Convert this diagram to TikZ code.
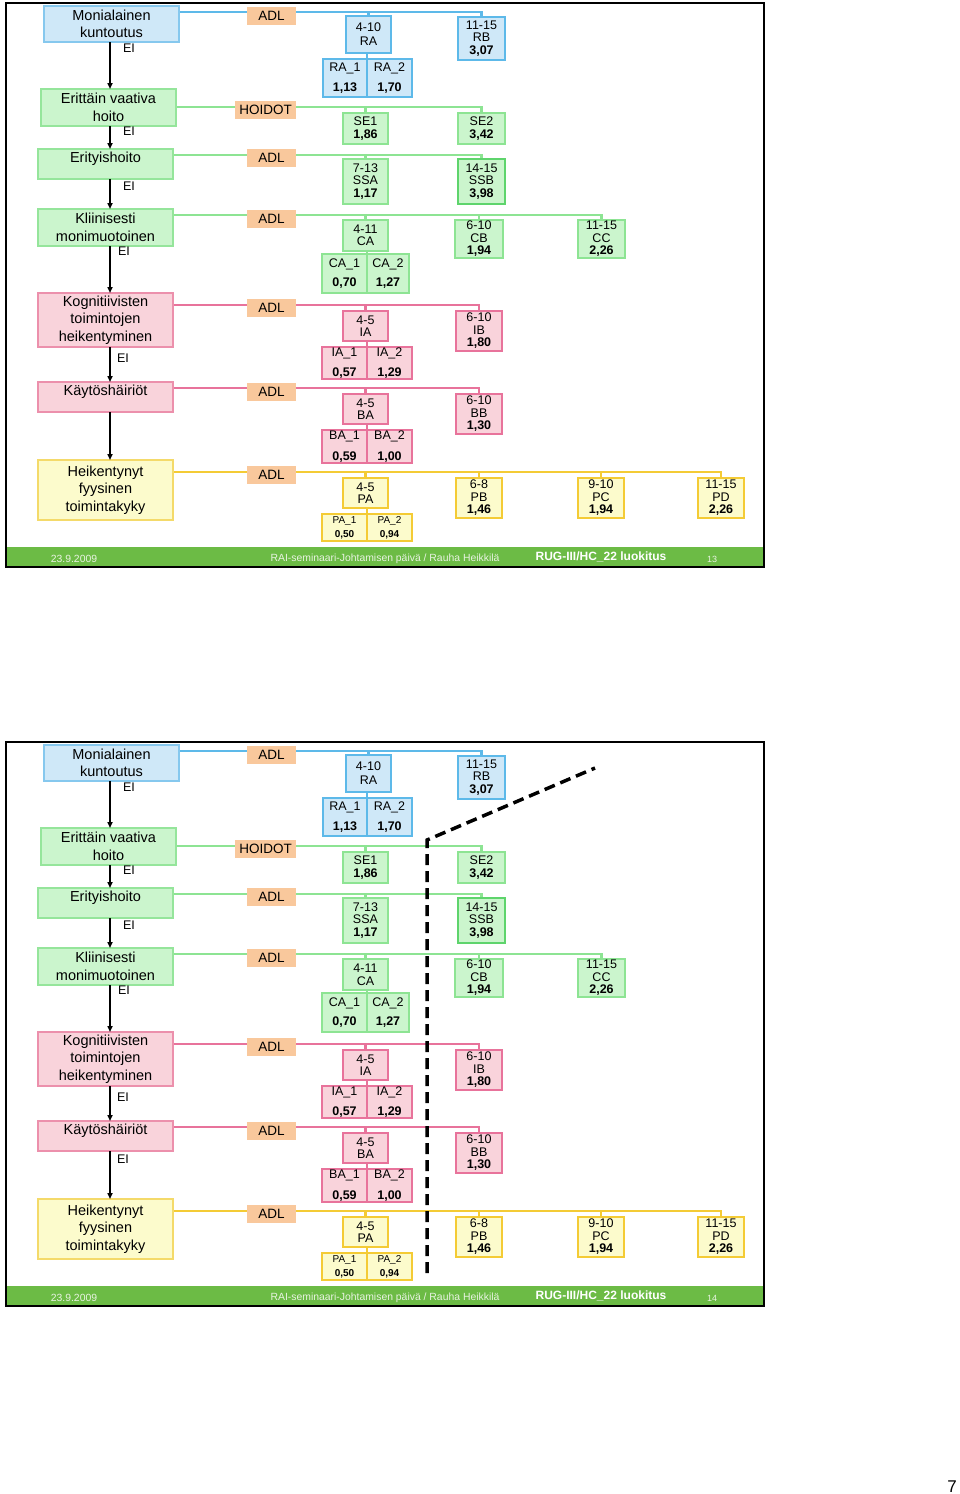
\documentclass[tikz,border=0pt]{standalone}
\usepackage{fontspec}
\setmainfont{Liberation Sans}
\usetikzlibrary{arrows.meta}
\pgfdeclarelayer{bg}
\pgfdeclarelayer{paper}
\pgfsetlayers{paper,bg,main}
\definecolor{bluefill}{HTML}{CFE8F8}
\definecolor{blueline}{HTML}{5DB9E9}
\definecolor{blueborder}{HTML}{86C8EE}
\definecolor{greenfill}{HTML}{CBF5CD}
\definecolor{greenline}{HTML}{8DE493}
\definecolor{greenborder}{HTML}{95E59B}
\definecolor{greendark}{HTML}{5ED46C}
\definecolor{pinkfill}{HTML}{F9D3DB}
\definecolor{pinkline}{HTML}{E8739B}
\definecolor{pinkborder}{HTML}{EC90AC}
\definecolor{yelfill}{HTML}{FCFBCC}
\definecolor{yelline}{HTML}{F4CB35}
\definecolor{yelborder}{HTML}{F4DA6A}
\definecolor{adlfill}{HTML}{F9C89C}
\definecolor{footgreen}{HTML}{6CBB45}
\definecolor{foottext}{HTML}{E9F3E2}
\tikzset{
  lb/.style={draw=#1border, fill=#1fill, line width=1.7pt, inner sep=0pt, outer sep=0pt, align=center, font=\fontsize{14.5}{17.5}\selectfont},
  rb/.style={draw=#1line, fill=#1fill, line width=2.4pt, inner sep=0pt, outer sep=0pt, align=center, font=\fontsize{12.5}{12.5}\selectfont},
  cline/.style={draw=#1line, line width=2.8pt},
  adl/.style={fill=adlfill, inner sep=0pt, outer sep=0pt, minimum height=18pt, minimum width=49pt, font=\fontsize{13.5}{14}\selectfont},
  ei/.style={font=\fontsize{12.5}{13}\selectfont, inner sep=0pt},
  arr/.style={draw=black, line width=1.5pt, -{Triangle[length=6pt,width=5pt]}},
  ftxt/.style={text=foottext, inner sep=0pt, font=\fontsize{10.4}{11}\selectfont},
  dashline/.style={draw=black, line width=3.5pt, dash pattern=on 11pt off 6pt}
}
\newcommand{\bx}[7]{\node[#6, minimum width={((#4)-(#2))*1pt}, minimum height={((#5)-(#3))*1pt}] (#1) at ({((#2)+(#4))/2},{((#3)+(#5))/2}) {#7};}
\newcommand{\slidebody}[1]{%
  % left column
  \bx{L1}{44}{6}{179}{42}{lb=blue}{Monialainen\\kuntoutus}
  \bx{L2}{41}{89}{176}{126}{lb=green}{Erittäin vaativa\\hoito}
  \bx{L3}{38}{149}{173}{179}{lb=green}{\raisebox{5pt}[\height][\depth]{Erityishoito}}
  \bx{L4}{38}{209}{173}{246}{lb=green}{Kliinisesti\\monimuotoinen}
  \bx{L5}{38}{293}{173}{347}{lb=pink}{Kognitiivisten\\toimintojen\\heikentyminen}
  \bx{L6}{38}{382}{173}{412}{lb=pink}{\raisebox{5pt}[\height][\depth]{Käytöshäiriöt}}
  \bx{L7}{38}{460}{173}{520}{lb=yel}{Heikentynyt\\fyysinen\\toimintakyky}
  \coordinate (ax) at (110,0);
  \draw[arr] (L1.south -| ax) -- (L2.north -| ax);
  \draw[arr] (L2.south -| ax) -- (L3.north -| ax);
  \draw[arr] (L3.south -| ax) -- (L4.north -| ax);
  \draw[arr] (L4.south -| ax) -- (L5.north -| ax);
  \draw[arr] (L5.south -| ax) -- (L6.north -| ax);
  \draw[arr] (L6.south -| ax) -- (L7.north -| ax);
  \node[ei] (ei1) at (129,48) {EI};
  \node[ei] (ei2) at (129,131) {EI};
  \node[ei] (ei3) at (129,186) {EI};
  \node[ei] (ei4) at (124,251) {EI};
  \node[ei] (ei5) at (123,358) {EI};
  % ADL labels
  \node[adl] (A1) at (271.5,16) {ADL};
  \node[adl, minimum width=61pt] (A2) at (265.5,110) {HOIDOT};
  \node[adl] (A3) at (271.5,158) {ADL};
  \node[adl] (A4) at (271.5,219) {ADL};
  \node[adl] (A5) at (271.5,308) {ADL};
  \node[adl] (A6) at (271.5,392) {ADL};
  \node[adl] (A7) at (271.5,475) {ADL};
  % blue group
  \bx{RA}{346}{16}{391}{53}{rb=blue}{4-10\\[1.5pt]RA}
  \bx{RAa}{323}{59}{367}{97}{rb=blue}{RA\_1\\[7pt]\textbf{1,13}}
  \bx{RAb}{367}{59}{412}{97}{rb=blue}{RA\_2\\[7pt]\textbf{1,70}}
  \bx{RB}{458}{17}{505}{60}{rb=blue}{11-15\\RB\\\textbf{3,07}}
  % green groups
  \bx{SEa}{343}{113}{388}{144}{rb=green}{SE1\\\textbf{1,86}}
  \bx{SEb}{458}{113}{505}{144}{rb=green}{SE2\\\textbf{3,42}}
  \bx{SSA}{343}{159}{388}{204}{rb=green}{7-13\\SSA\\\textbf{1,17}}
  \bx{SSB}{458}{159}{505}{204}{rb=green, draw=greendark, line width=2.9pt}{14-15\\SSB\\\textbf{3,98}}
  \bx{CA}{343}{220}{388}{251}{rb=green}{4-11\\CA}
  \bx{CAa}{322}{254}{367}{293}{rb=green}{CA\_1\\[7pt]\textbf{0,70}}
  \bx{CAb}{367}{254}{409}{293}{rb=green}{CA\_2\\[7pt]\textbf{1,27}}
  \bx{CB}{455}{220}{503}{258}{rb=green}{6-10\\CB\\\textbf{1,94}}
  \bx{CC}{578}{220}{625}{258}{rb=green}{11-15\\CC\\\textbf{2,26}}
  % pink groups
  \bx{IA}{343}{311}{388}{341}{rb=pink}{4-5\\IA}
  \bx{IAa}{322}{347}{367}{379}{rb=pink}{IA\_1\\[7pt]\textbf{0,57}}
  \bx{IAb}{367}{347}{412}{379}{rb=pink}{IA\_2\\[7pt]\textbf{1,29}}
  \bx{IB}{456}{311}{502}{351}{rb=pink}{6-10\\IB\\\textbf{1,80}}
  \bx{BA}{343}{394}{388}{424}{rb=pink}{4-5\\BA}
  \bx{BAa}{322}{430}{367}{463}{rb=pink}{BA\_1\\[8pt]\textbf{0,59}}
  \bx{BAb}{367}{430}{412}{463}{rb=pink}{BA\_2\\[8pt]\textbf{1,00}}
  \bx{BB}{456}{394}{502}{434}{rb=pink}{6-10\\BB\\\textbf{1,30}}
  % yellow group
  \bx{PA}{343}{478}{388}{508}{rb=yel}{4-5\\PA}
  \bx{PAa}{322}{514}{367}{541}{rb=yel, font=\fontsize{10}{11}\selectfont}{PA\_1\\[3pt]\textbf{0,50}}
  \bx{PAb}{367}{514}{412}{541}{rb=yel, font=\fontsize{10}{11}\selectfont}{PA\_2\\[3pt]\textbf{0,94}}
  \bx{PB}{456}{478}{502}{518}{rb=yel}{6-8\\PB\\\textbf{1,46}}
  \bx{PC}{578}{478}{624}{518}{rb=yel}{9-10\\PC\\\textbf{1,94}}
  \bx{PD}{698}{478}{744}{518}{rb=yel}{11-15\\PD\\\textbf{2,26}}
  % connectors
  \coordinate (h1) at (0,12);
  \coordinate (h2) at (0,107);
  \coordinate (h3) at (0,155);
  \coordinate (h4) at (0,215);
  \coordinate (h5) at (0,305);
  \coordinate (h6) at (0,388);
  \coordinate (h7) at (0,472);
  \begin{pgfonlayer}{bg}
    \draw[cline=blue] (L1.east |- h1) -- (RB.north |- h1) -- (RB.north);
    \draw[cline=blue] (RA.north |- h1) -- (RA.north);
    \draw[cline=blue] (RA.south -| RAa.north east) -- (RAa.north east);
    \draw[cline=green] (L2.east |- h2) -- (SEb.north |- h2) -- (SEb.north);
    \draw[cline=green] (SEa.north |- h2) -- (SEa.north);
    \draw[cline=green] (L3.east |- h3) -- (SSB.north |- h3) -- (SSB.north);
    \draw[cline=green] (SSA.north |- h3) -- (SSA.north);
    \draw[cline=green] (L4.east |- h4) -- (CC.north |- h4) -- (CC.north);
    \draw[cline=green] (CA.north |- h4) -- (CA.north);
    \draw[cline=green] (CB.north |- h4) -- (CB.north);
    \draw[cline=green] (CA.south -| CAa.north east) -- (CAa.north east);
    \draw[cline=pink] (L5.east |- h5) -- (IB.north |- h5) -- (IB.north);
    \draw[cline=pink] (IA.north |- h5) -- (IA.north);
    \draw[cline=pink] (IA.south -| IAa.north east) -- (IAa.north east);
    \draw[cline=pink] (L6.east |- h6) -- (BB.north |- h6) -- (BB.north);
    \draw[cline=pink] (BA.north |- h6) -- (BA.north);
    \draw[cline=pink] (BA.south -| BAa.north east) -- (BAa.north east);
    \draw[cline=yel] (L7.east |- h7) -- (PD.north |- h7) -- (PD.north);
    \draw[cline=yel] (PA.north |- h7) -- (PA.north);
    \draw[cline=yel] (PB.north |- h7) -- (PB.north);
    \draw[cline=yel] (PC.north |- h7) -- (PC.north);
    \draw[cline=yel] (PA.south -| PAa.north east) -- (PAa.north east);
  \end{pgfonlayer}
  % footer
  \fill[footgreen] (6,547) rectangle (764,566);
  \node[ftxt] (fdate) at (74,559) {23.9.2009};
  \node[ftxt] (ftitle) at (385,559) {RAI-seminaari-Johtamisen päivä / Rauha Heikkilä};
  \node[inner sep=0pt, text=white, font=\fontsize{12}{13}\selectfont\bfseries] (fname) at (601,557) {RUG-III/HC\_22 luokitus};
  \node[ftxt, font=\fontsize{9}{10}\selectfont] (fnum) at (712,559) {#1};
  \draw[black, line width=2.5pt] (6,3) rectangle (764,567);
}
\begin{document}
\begin{tikzpicture}[x=1pt, y=-1pt]
  \useasboundingbox (0,0) rectangle (960,1494);
  \begin{pgfonlayer}{paper}
    \fill[white] (0,0) rectangle (960,1494);
  \end{pgfonlayer}
  \begin{scope}[name prefix=s1-]
    \slidebody{13}
  \end{scope}
  \begin{scope}[shift={(0,739)}, name prefix=s2-]
    \slidebody{14}
    \node[ei] (ei6) at (123,420) {EI};
    \coordinate (d1) at (427,534);
    \coordinate (d2) at (427,101);
    \coordinate (d3) at (595,29);
    \draw[dashline] (d1) -- (d2) -- (d3);
  \end{scope}
  \node[inner sep=0pt, font=\fontsize{17}{18}\selectfont] (pg) at (952,1487) {7};
\end{tikzpicture}
\end{document}
